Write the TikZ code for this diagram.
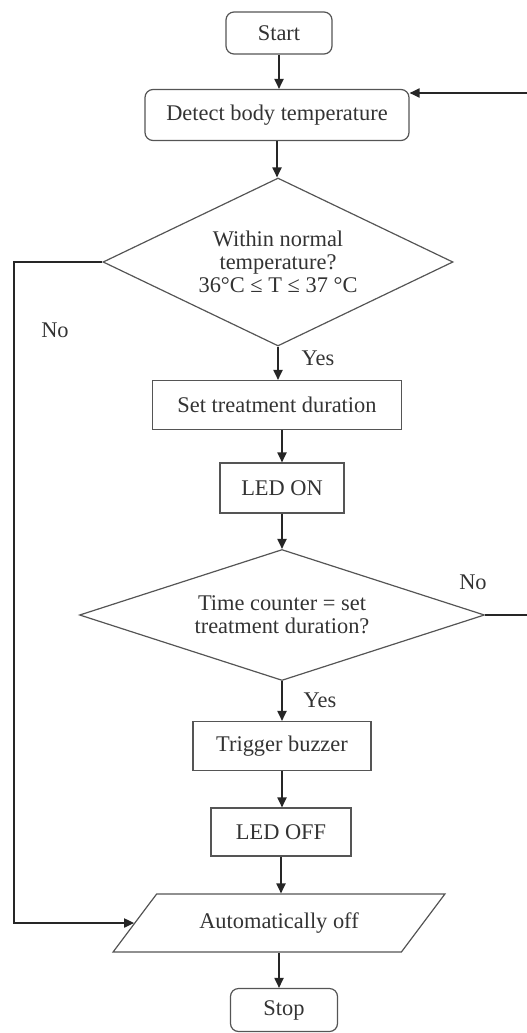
\documentclass[tikz,border=0pt]{standalone}
\usepackage{fontspec}
\setmainfont{Liberation Serif}
\usetikzlibrary{shapes.geometric,arrows.meta}
\definecolor{ln}{HTML}{555555}
\definecolor{tx}{HTML}{333333}
\tikzset{
  every node/.style={font=\fontsize{11.2}{12}\selectfont, text=tx},
  termbox/.style={draw=ln, line width=0.6pt, rounded corners=4pt, inner sep=0pt},
  procbox/.style={draw=ln, line width=0.6pt, inner sep=0pt},
  decbox/.style={draw=ln, line width=0.6pt, diamond, inner sep=0pt, align=center},
  iobox/.style={draw=ln, line width=0.6pt, trapezium, trapezium left angle=36, trapezium right angle=144, trapezium stretches=true, inner sep=0pt},
  flow/.style={draw=black!85, line width=0.7pt, -{Triangle[length=5pt,width=4.6pt]}},
  lbl/.style={inner sep=0pt}
}
\begin{document}
\begin{tikzpicture}[x=0.5pt,y=-0.5pt]
\useasboundingbox (0,0) rectangle (526,1033);
\node[termbox, minimum width=53pt, minimum height=21pt] (start) at (279,33) {Start};
\node[termbox, minimum width=132pt, minimum height=25.5pt] (detect) at (277,115) {Detect body temperature};
\node[decbox, aspect=2.08, minimum width=175pt, minimum height=84pt] (d1) at (278,262) {Within normal\\[-0.5pt]temperature?\\[-0.5pt]36°C ≤ T ≤ 37 °C};
\node[procbox, minimum width=124.5pt, minimum height=24.5pt] (set) at (277,405) {Set treatment duration};
\node[procbox, minimum width=62pt, minimum height=25pt] (ledon) at (282,488) {LED ON};
\node[decbox, aspect=3.09, minimum width=202.5pt, minimum height=65.5pt] (d2) at (282,615) {Time counter = set\\[-0.5pt]treatment duration?};
\node[procbox, minimum width=89pt, minimum height=24.5pt] (buzz) at (282,746) {Trigger buzzer};
\node[procbox, minimum width=70pt, minimum height=24pt] (ledoff) at (281,832) {LED OFF};
\node[iobox, minimum width=166pt, minimum height=29pt] (auto) at (279,923) {Automatically off};
\node[termbox, minimum width=53.5pt, minimum height=21.5pt] (stop) at (284,1010) {Stop};

\node[lbl] (no1) at (55,330) {No};
\node[lbl] (yes1) at (318,358) {Yes};
\node[lbl] (no2) at (473,582) {No};
\node[lbl] (yes2) at (320,700) {Yes};

\coordinate (nl) at (14,262);
\coordinate (rl) at (529,615);

\draw[flow] (start.south) -- (start.south |- detect.north);
\draw[flow] (detect.south) -- (detect.south |- d1.north);
\draw[flow] (d1.south) -- (d1.south |- set.north);
\draw[flow] (set.south -| ledon) -- (ledon.north);
\draw[flow] (ledon.south) -- (d2.north);
\draw[flow] (d2.south) -- (d2.south |- buzz.north);
\draw[flow] (buzz.south) -- (buzz.south |- ledoff.north);
\draw[flow] (ledoff.south) -- (ledoff.south |- auto.north);
\draw[flow] (auto.south) -- (auto.south |- stop.north);
\draw[flow] (d1.west) -- (nl) |- (auto.west);
\draw[flow] (d2.east) -- (rl) |- ([yshift=11pt]detect.east);
\end{tikzpicture}
\end{document}
